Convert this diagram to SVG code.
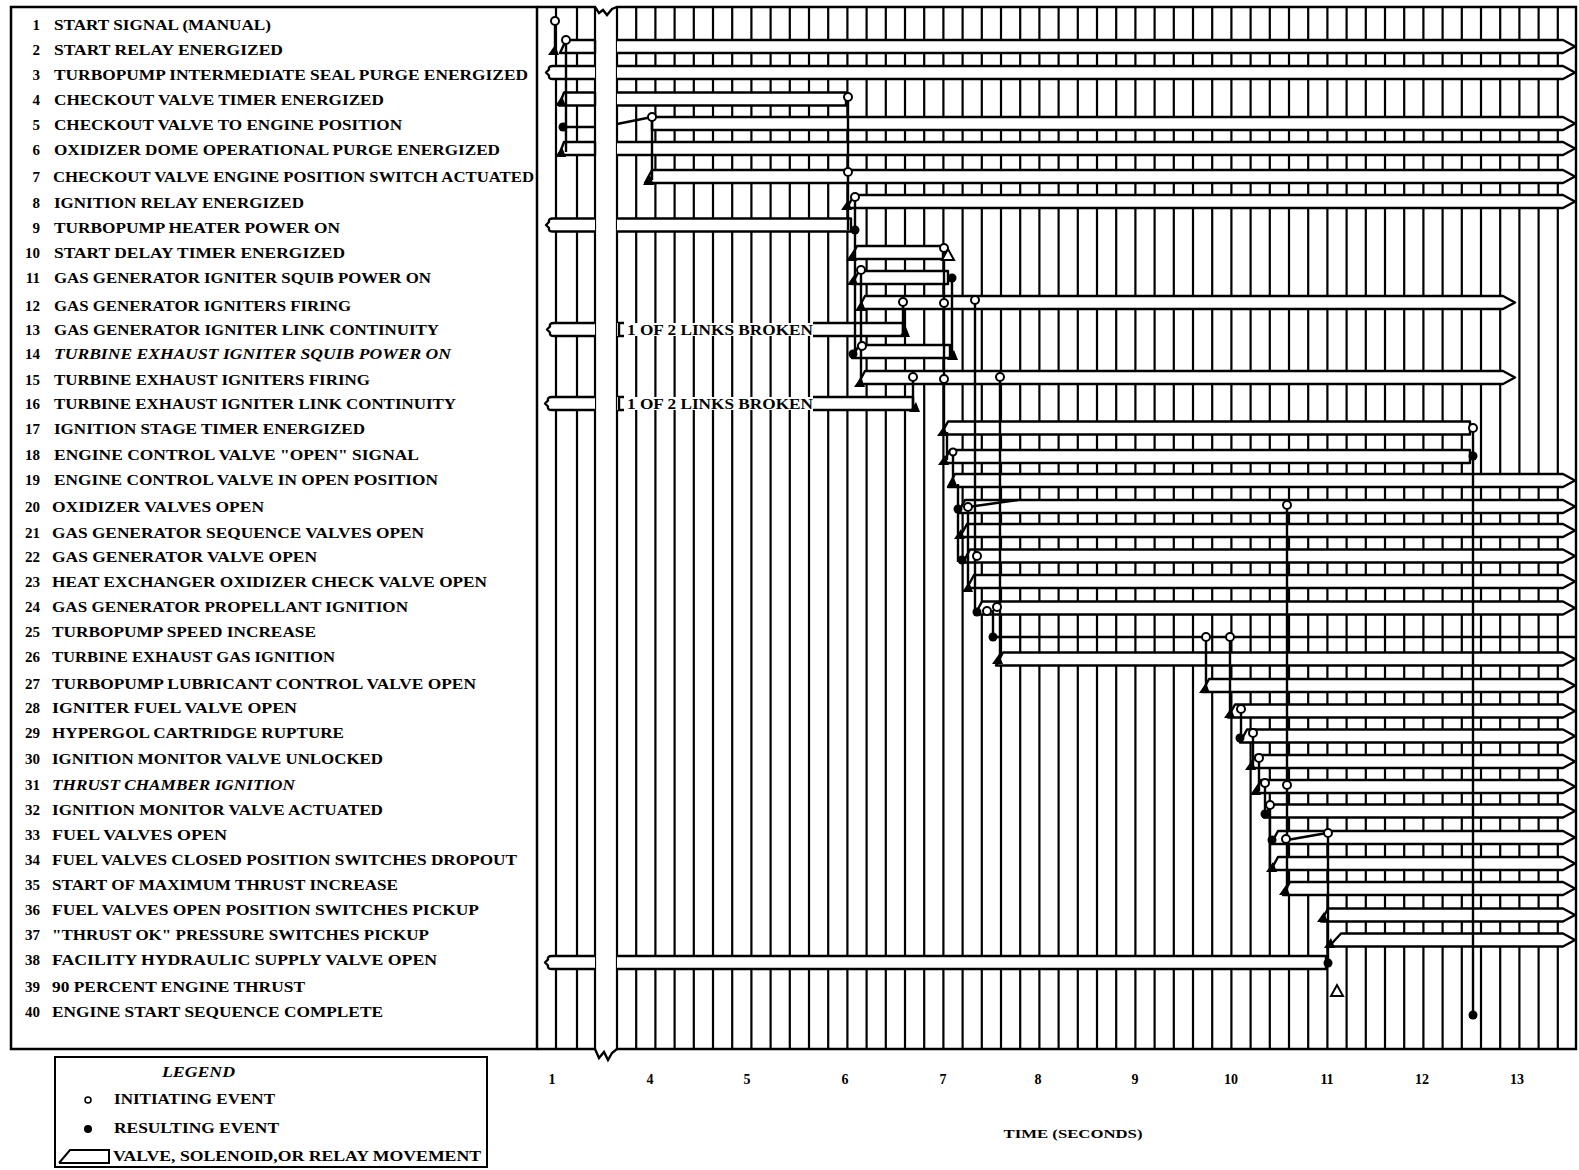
<svg xmlns="http://www.w3.org/2000/svg" width="1579" height="1170" viewBox="0 0 1579 1170">
<style>
.t{font-family:"Liberation Serif","Times New Roman",serif;font-weight:bold;font-size:15px;fill:#000}
.n{text-anchor:end}
.i{font-style:italic}
.gr{stroke:#000;stroke-width:2.2;fill:none}
.b{fill:#fff;stroke:#000;stroke-width:2.4;stroke-linejoin:round}
.c{stroke:#000;stroke-width:2.4;fill:none}
.oc{fill:#fff;stroke:#000;stroke-width:2}
.fc{fill:#000}
.ax{font-family:"Liberation Serif","Times New Roman",serif;font-weight:bold;font-size:14px;text-anchor:middle}
</style>
<defs>
<path id="tri" d="M-6,4 L5,4 L1,-6 Z" fill="#000"/>
<path id="otri" d="M-6,5 L6,5 L0,-6 Z" fill="#fff" stroke="#000" stroke-width="2"/>
</defs>
<rect width="1579" height="1170" fill="#fff"/>

<g id="frame">
<rect x="11" y="7" width="526" height="1042" fill="none" stroke="#000" stroke-width="2.5"/>
<path class="gr" d="M556,7V1049 M577,7V1049 M595,7V1049"/>
<path class="gr" d="M617,7V1049 M636.2,7V1049 M655.4,7V1049 M674.6,7V1049 M693.8,7V1049 M713,7V1049 M732.2,7V1049 M751.4,7V1049 M770.6,7V1049 M789.8,7V1049 M809,7V1049 M828.2,7V1049 M847.4,7V1049 M866.6,7V1049 M885.8,7V1049 M905,7V1049 M924.2,7V1049 M943.4,7V1049 M962.6,7V1049 M981.8,7V1049 M1001,7V1049 M1020.2,7V1049 M1039.4,7V1049 M1058.6,7V1049 M1077.8,7V1049 M1097,7V1049 M1116.2,7V1049 M1135.4,7V1049 M1154.6,7V1049 M1173.8,7V1049 M1193,7V1049 M1212.2,7V1049 M1231.4,7V1049 M1250.6,7V1049 M1269.8,7V1049 M1289,7V1049 M1308.2,7V1049 M1327.4,7V1049 M1346.6,7V1049 M1365.8,7V1049 M1385,7V1049 M1404.2,7V1049 M1423.4,7V1049 M1442.6,7V1049 M1461.8,7V1049 M1481,7V1049 M1500.2,7V1049 M1519.4,7V1049 M1538.6,7V1049 M1557.8,7V1049"/>
<path d="M537,7H595 L599,13 L603,10 L607,15 L612,9 L617,7 H1576 V1049 H617 L612,1053 L608,1060 L604,1052 L599,1058 L595,1049 H537" fill="none" stroke="#000" stroke-width="2.4"/>
</g>

<g id="row-1"><text class="t n" x="40" y="30">1</text><text class="t" x="54" y="30" textLength="217" lengthAdjust="spacingAndGlyphs">START SIGNAL (MANUAL)</text></g>
<g id="row-2"><text class="t n" x="40" y="55">2</text><text class="t" x="54" y="55" textLength="229" lengthAdjust="spacingAndGlyphs">START RELAY ENERGIZED</text>
<path class="b" d="M560,53 L566,40 H595 V53 Z"/><path class="b" d="M617,40 H1563 L1575,46.5 L1563,53 H617"/></g>
<g id="row-3"><text class="t n" x="40" y="80">3</text><text class="t" x="54" y="80" textLength="474" lengthAdjust="spacingAndGlyphs">TURBOPUMP INTERMEDIATE SEAL PURGE ENERGIZED</text>
<path class="b" d="M595,66 H553 Q548,66 549,69.5 L546,72.5 L549,75.5 Q548,79 553,79 H595"/><path class="b" d="M617,66 H1563 L1575,72.5 L1563,79 H617"/></g>
<g id="row-4"><text class="t n" x="40" y="105">4</text><text class="t" x="54" y="105" textLength="330" lengthAdjust="spacingAndGlyphs">CHECKOUT VALVE TIMER ENERGIZED</text>
<path class="b" d="M559,105.5 L564,92.5 H595 V105.5 Z"/><path class="b" d="M617,92.5 H846 V105.5 H617"/></g>
<g id="row-5"><text class="t n" x="40" y="130">5</text><text class="t" x="54" y="130" textLength="348" lengthAdjust="spacingAndGlyphs">CHECKOUT VALVE TO ENGINE POSITION</text>
<path class="b" d="M652,117 H1563 L1575,123.5 L1563,130 H652 Z"/></g>
<g id="row-6"><text class="t n" x="40" y="155">6</text><text class="t" x="54" y="155" textLength="446" lengthAdjust="spacingAndGlyphs">OXIDIZER DOME OPERATIONAL PURGE ENERGIZED</text>
<path class="b" d="M559,155 L564,142 H595 V155 Z"/><path class="b" d="M617,142 H1563 L1575,148.5 L1563,155 H617"/></g>
<g id="row-7"><text class="t n" x="40" y="182">7</text><text class="t" x="53" y="182" textLength="481" lengthAdjust="spacingAndGlyphs">CHECKOUT VALVE ENGINE POSITION SWITCH ACTUATED</text>
<path class="b" d="M645,183 L652,170 H1563 L1575,176.5 L1563,183 Z"/></g>
<g id="row-8"><text class="t n" x="40" y="208">8</text><text class="t" x="54" y="208" textLength="250" lengthAdjust="spacingAndGlyphs">IGNITION RELAY ENERGIZED</text>
<path class="b" d="M847,208 L854,195 H1563 L1575,201.5 L1563,208 Z"/></g>
<g id="row-9"><text class="t n" x="40" y="233">9</text><text class="t" x="54" y="233" textLength="286" lengthAdjust="spacingAndGlyphs">TURBOPUMP HEATER POWER ON</text>
<path class="b" d="M595,218.5 H553 Q548,218.5 549,222 L546,225 L549,228 Q548,231.5 553,231.5 H595"/><path class="b" d="M617,218.5 H851 V231.5 H617"/></g>
<g id="row-10"><text class="t n" x="40" y="258">10</text><text class="t" x="54" y="258" textLength="291" lengthAdjust="spacingAndGlyphs">START DELAY TIMER ENERGIZED</text>
<path class="b" d="M850,259 L857,246 H943 V259 Z"/></g>
<g id="row-11"><text class="t n" x="40" y="283">11</text><text class="t" x="54" y="283" textLength="377" lengthAdjust="spacingAndGlyphs">GAS GENERATOR IGNITER SQUIB POWER ON</text>
<path class="b" d="M852,284 L859,271 H948 V284 Z"/></g>
<g id="row-12"><text class="t n" x="40" y="311">12</text><text class="t" x="54" y="311" textLength="297" lengthAdjust="spacingAndGlyphs">GAS GENERATOR IGNITERS FIRING</text>
<path class="b" d="M858,309 L865,296 H1503 L1515,302.5 L1503,309 Z"/></g>
<g id="row-13"><text class="t n" x="40" y="335">13</text><text class="t" x="54" y="335" textLength="385" lengthAdjust="spacingAndGlyphs">GAS GENERATOR IGNITER LINK CONTINUITY</text>
<path class="b" d="M595,323 H554 Q549,323 550,326.5 L547,329.5 L550,332.5 Q549,336 554,336 H595"/>
<rect x="617" y="323" width="286" height="13" fill="#fff"/><path class="b" d="M813,323 H903 V336 H813" fill="none"/><path class="c" d="M624,323 H619 V336 H624"/>
<text class="t" x="627" y="335" textLength="186" lengthAdjust="spacingAndGlyphs">1 OF 2 LINKS BROKEN</text></g>
<g id="row-14"><text class="t n" x="40" y="359">14</text><text class="t i" x="54" y="359" textLength="397" lengthAdjust="spacingAndGlyphs">TURBINE EXHAUST IGNITER SQUIB POWER ON</text>
<path class="b" d="M852,358 L859,345 H950 V358 Z"/></g>
<g id="row-15"><text class="t n" x="40" y="385">15</text><text class="t" x="54" y="385" textLength="316" lengthAdjust="spacingAndGlyphs">TURBINE EXHAUST IGNITERS FIRING</text>
<path class="b" d="M858,384 L865,371 H1503 L1515,377.5 L1503,384 Z"/></g>
<g id="row-16"><text class="t n" x="40" y="409">16</text><text class="t" x="54" y="409" textLength="402" lengthAdjust="spacingAndGlyphs">TURBINE EXHAUST IGNITER LINK CONTINUITY</text>
<path class="b" d="M595,397 H552 Q547,397 548,400.5 L545,403.5 L548,406.5 Q547,410 552,410 H595"/>
<rect x="617" y="397" width="296" height="13" fill="#fff"/><path class="b" d="M813,397 H913 V410 H813" fill="none"/><path class="c" d="M624,397 H619 V410 H624"/>
<text class="t" x="627" y="409" textLength="186" lengthAdjust="spacingAndGlyphs">1 OF 2 LINKS BROKEN</text></g>
<g id="row-17"><text class="t n" x="40" y="434">17</text><text class="t" x="54" y="434" textLength="311" lengthAdjust="spacingAndGlyphs">IGNITION STAGE TIMER ENERGIZED</text>
<path class="b" d="M941,434.5 L948,421.5 H1470 V434.5 Z"/></g>
<g id="row-18"><text class="t n" x="40" y="460">18</text><text class="t" x="54" y="460" textLength="365" lengthAdjust="spacingAndGlyphs">ENGINE CONTROL VALVE "OPEN" SIGNAL</text>
<path class="b" d="M943,463 L950,450 H1470 V463 Z"/></g>
<g id="row-19"><text class="t n" x="40" y="485">19</text><text class="t" x="54" y="485" textLength="384" lengthAdjust="spacingAndGlyphs">ENGINE CONTROL VALVE IN OPEN POSITION</text>
<path class="b" d="M948,487 L955,474 H1563 L1575,480.5 L1563,487 Z"/></g>
<g id="row-20"><text class="t n" x="40" y="512">20</text><text class="t" x="52" y="512" textLength="212" lengthAdjust="spacingAndGlyphs">OXIDIZER VALVES OPEN</text>
<path class="b" d="M958,513 L965,500 H1563 L1575,506.5 L1563,513 Z"/></g>
<g id="row-21"><text class="t n" x="40" y="538">21</text><text class="t" x="52" y="538" textLength="372" lengthAdjust="spacingAndGlyphs">GAS GENERATOR SEQUENCE VALVES OPEN</text>
<path class="b" d="M960,537 L967,524 H1563 L1575,530.5 L1563,537 Z"/></g>
<g id="row-22"><text class="t n" x="40" y="562">22</text><text class="t" x="52" y="562" textLength="265" lengthAdjust="spacingAndGlyphs">GAS GENERATOR VALVE OPEN</text>
<path class="b" d="M963,562.5 L970,549.5 H1563 L1575,556 L1563,562.5 Z"/></g>
<g id="row-23"><text class="t n" x="40" y="587">23</text><text class="t" x="52" y="587" textLength="435" lengthAdjust="spacingAndGlyphs">HEAT EXCHANGER OXIDIZER CHECK VALVE OPEN</text>
<path class="b" d="M967,588 L974,575 H1563 L1575,581.5 L1563,588 Z"/></g>
<g id="row-24"><text class="t n" x="40" y="612">24</text><text class="t" x="52" y="612" textLength="356" lengthAdjust="spacingAndGlyphs">GAS GENERATOR PROPELLANT IGNITION</text>
<path class="b" d="M975,614.5 L982,601.5 H1563 L1575,608 L1563,614.5 Z"/></g>
<g id="row-25"><text class="t n" x="40" y="637">25</text><text class="t" x="52" y="637" textLength="264" lengthAdjust="spacingAndGlyphs">TURBOPUMP SPEED INCREASE</text>
<path class="c" d="M993,637 H1576"/></g>
<g id="row-26"><text class="t n" x="40" y="662">26</text><text class="t" x="52" y="662" textLength="283" lengthAdjust="spacingAndGlyphs">TURBINE EXHAUST GAS IGNITION</text>
<path class="b" d="M996,665.5 L1003,652.5 H1563 L1575,659 L1563,665.5 Z"/></g>
<g id="row-27"><text class="t n" x="40" y="689">27</text><text class="t" x="52" y="689" textLength="424" lengthAdjust="spacingAndGlyphs">TURBOPUMP LUBRICANT CONTROL VALVE OPEN</text>
<path class="b" d="M1202,692 L1209,679 H1563 L1575,685.5 L1563,692 Z"/></g>
<g id="row-28"><text class="t n" x="40" y="713">28</text><text class="t" x="52" y="713" textLength="245" lengthAdjust="spacingAndGlyphs">IGNITER FUEL VALVE OPEN</text>
<path class="b" d="M1228,717.5 L1235,704.5 H1563 L1575,711 L1563,717.5 Z"/></g>
<g id="row-29"><text class="t n" x="40" y="738">29</text><text class="t" x="52" y="738" textLength="292" lengthAdjust="spacingAndGlyphs">HYPERGOL CARTRIDGE RUPTURE</text>
<path class="b" d="M1240,742.5 L1247,729.5 H1563 L1575,736 L1563,742.5 Z"/></g>
<g id="row-30"><text class="t n" x="40" y="764">30</text><text class="t" x="52" y="764" textLength="331" lengthAdjust="spacingAndGlyphs">IGNITION MONITOR VALVE UNLOCKED</text>
<path class="b" d="M1249,768 L1256,755 H1563 L1575,761.5 L1563,768 Z"/></g>
<g id="row-31"><text class="t n" x="40" y="790">31</text><text class="t i" x="52" y="790" textLength="243" lengthAdjust="spacingAndGlyphs">THRUST CHAMBER IGNITION</text>
<path class="b" d="M1254,793 L1261,780 H1563 L1575,786.5 L1563,793 Z"/></g>
<g id="row-32"><text class="t n" x="40" y="815">32</text><text class="t" x="52" y="815" textLength="331" lengthAdjust="spacingAndGlyphs">IGNITION MONITOR VALVE ACTUATED</text>
<path class="b" d="M1264,817.5 L1271,804.5 H1563 L1575,811 L1563,817.5 Z"/></g>
<g id="row-33"><text class="t n" x="40" y="840">33</text><text class="t" x="52" y="840" textLength="175" lengthAdjust="spacingAndGlyphs">FUEL VALVES OPEN</text>
<path class="b" d="M1271,844 L1278,831 H1563 L1575,837.5 L1563,844 Z"/></g>
<g id="row-34"><text class="t n" x="40" y="865">34</text><text class="t" x="52" y="865" textLength="465" lengthAdjust="spacingAndGlyphs">FUEL VALVES CLOSED POSITION SWITCHES DROPOUT</text>
<path class="b" d="M1271,870 L1278,857 H1563 L1575,863.5 L1563,870 Z"/></g>
<g id="row-35"><text class="t n" x="40" y="890">35</text><text class="t" x="52" y="890" textLength="346" lengthAdjust="spacingAndGlyphs">START OF MAXIMUM THRUST INCREASE</text>
<path class="b" d="M1283,895 L1290,882 H1563 L1575,888.5 L1563,895 Z"/></g>
<g id="row-36"><text class="t n" x="40" y="915">36</text><text class="t" x="52" y="915" textLength="427" lengthAdjust="spacingAndGlyphs">FUEL VALVES OPEN POSITION SWITCHES PICKUP</text>
<path class="b" d="M1321,921.5 L1328,908.5 H1563 L1575,915 L1563,921.5 Z"/></g>
<g id="row-37"><text class="t n" x="40" y="940">37</text><text class="t" x="52" y="940" textLength="377" lengthAdjust="spacingAndGlyphs">"THRUST OK" PRESSURE SWITCHES PICKUP</text>
<path class="b" d="M1329,946.5 L1341,933.5 H1563 L1575,940 L1563,946.5 Z"/></g>
<g id="row-38"><text class="t n" x="40" y="965">38</text><text class="t" x="52" y="965" textLength="385" lengthAdjust="spacingAndGlyphs">FACILITY HYDRAULIC SUPPLY VALVE OPEN</text>
<path class="b" d="M595,956 H552 Q547,956 548,959.5 L545,962.5 L548,965.5 Q547,969 552,969 H595"/><path class="b" d="M617,956 H1326 V969 H617"/></g>
<g id="row-39"><text class="t n" x="40" y="992">39</text><text class="t" x="52" y="992" textLength="253" lengthAdjust="spacingAndGlyphs">90 PERCENT ENGINE THRUST</text></g>
<g id="row-40"><text class="t n" x="40" y="1017">40</text><text class="t" x="52" y="1017" textLength="331" lengthAdjust="spacingAndGlyphs">ENGINE START SEQUENCE COMPLETE</text></g>

<g id="connectors">
<path class="c" d="M555,21V50 M566,40V152 M563,127H595 M617,124L652,117 M652,117V180 M848,97V230 M855,197V355 M861,270V383 M903,302V333 M913,377V408 M944,248V432 M952,278V355 M975,300V612 M1000,377V659 M947,432V460 M953,452V484 M958,484V562 M968,507V588 M968,507L1018,500 M993,610V637 M1206,637V688 M1230,637V713 M1241,709V738 M1253,733V766 M1259,758V791 M1265,783V814 M1270,805V868 M1287,505V891 M1287,840L1327,833 M1328,833V963 M1473,428V1015"/>
</g>

<g id="events">
<circle class="oc" cx="555" cy="21" r="4"/>
<circle class="oc" cx="566" cy="40" r="4"/>
<use href="#tri" x="554" y="51"/>
<use href="#tri" x="561" y="102"/>
<circle class="fc" cx="563" cy="127" r="4.5"/>
<use href="#tri" x="561" y="153"/>
<circle class="oc" cx="652" cy="117" r="4"/>
<use href="#tri" x="649" y="181"/>
<circle class="oc" cx="848" cy="97" r="4"/>
<circle class="oc" cx="848" cy="172" r="4"/>
<use href="#tri" x="847" y="206"/>
<circle class="oc" cx="855" cy="197" r="4"/>
<circle class="fc" cx="855" cy="230" r="4.5"/>
<use href="#tri" x="852" y="257"/>
<circle class="oc" cx="861" cy="270" r="4"/>
<use href="#tri" x="853" y="281"/>
<use href="#tri" x="861" y="307"/>
<circle class="oc" cx="862" cy="346" r="4"/>
<circle class="fc" cx="853" cy="354" r="4.5"/>
<use href="#tri" x="860" y="383"/>
<circle class="oc" cx="944" cy="248" r="4"/>
<use href="#otri" x="948" y="255"/>
<circle class="fc" cx="952" cy="278" r="4.5"/>
<circle class="oc" cx="903" cy="302" r="4"/>
<circle class="oc" cx="944" cy="303" r="4"/>
<circle class="oc" cx="975" cy="300" r="4"/>
<use href="#tri" x="905" y="333"/>
<use href="#tri" x="953" y="356"/>
<circle class="oc" cx="913" cy="377" r="4"/>
<circle class="oc" cx="944" cy="379" r="4"/>
<circle class="oc" cx="1000" cy="377" r="4"/>
<use href="#tri" x="915" y="408"/>
<use href="#tri" x="943" y="432"/>
<circle class="oc" cx="1473" cy="428" r="4"/>
<circle class="oc" cx="953" cy="452" r="3.5"/>
<use href="#tri" x="944" y="461"/>
<circle class="fc" cx="1473" cy="456" r="4.5"/>
<use href="#tri" x="953" y="484"/>
<circle class="fc" cx="958" cy="509" r="4.5"/>
<circle class="oc" cx="968" cy="507" r="4"/>
<circle class="oc" cx="1287" cy="505" r="4"/>
<use href="#tri" x="960" y="535"/>
<circle class="fc" cx="962" cy="560" r="4.5"/>
<circle class="oc" cx="977" cy="556" r="4"/>
<use href="#tri" x="968" y="588"/>
<circle class="fc" cx="977" cy="612" r="4.5"/>
<circle class="oc" cx="987" cy="611" r="4"/>
<circle class="oc" cx="997" cy="607" r="4"/>
<circle class="fc" cx="993" cy="637" r="4.5"/>
<circle class="oc" cx="1206" cy="637" r="4"/>
<circle class="oc" cx="1230" cy="637" r="4"/>
<use href="#tri" x="998" y="660"/>
<use href="#tri" x="1205" y="689"/>
<use href="#tri" x="1230" y="714"/>
<circle class="oc" cx="1241" cy="709" r="4"/>
<circle class="fc" cx="1240" cy="738" r="4.5"/>
<circle class="oc" cx="1253" cy="733" r="4"/>
<use href="#tri" x="1251" y="766"/>
<circle class="oc" cx="1259" cy="758" r="4"/>
<use href="#tri" x="1256" y="791"/>
<circle class="oc" cx="1265" cy="783" r="4"/>
<circle class="oc" cx="1287" cy="785" r="4"/>
<circle class="fc" cx="1265" cy="814" r="4.5"/>
<circle class="oc" cx="1270" cy="805" r="4"/>
<circle class="fc" cx="1272" cy="840" r="4.5"/>
<circle class="oc" cx="1286" cy="839" r="4"/>
<circle class="oc" cx="1328" cy="833" r="4"/>
<use href="#tri" x="1272" y="868"/>
<use href="#tri" x="1285" y="891"/>
<use href="#tri" x="1323" y="918"/>
<use href="#tri" x="1330" y="944"/>
<circle class="fc" cx="1328" cy="963" r="4.5"/>
<use href="#otri" x="1337" y="991"/>
<circle class="fc" cx="1473" cy="1015" r="4.5"/>
</g>

<g id="axis">
<text class="ax" x="552" y="1084">1</text>
<text class="ax" x="650" y="1084">4</text>
<text class="ax" x="747" y="1084">5</text>
<text class="ax" x="845" y="1084">6</text>
<text class="ax" x="943" y="1084">7</text>
<text class="ax" x="1038" y="1084">8</text>
<text class="ax" x="1135" y="1084">9</text>
<text class="ax" x="1231" y="1084">10</text>
<text class="ax" x="1327" y="1084">11</text>
<text class="ax" x="1422" y="1084">12</text>
<text class="ax" x="1517" y="1084">13</text>
<text class="ax" x="1073" y="1138" style="font-size:13px" textLength="139" lengthAdjust="spacingAndGlyphs">TIME (SECONDS)</text>
</g>

<g id="legend">
<rect x="55" y="1057" width="432" height="110" fill="#fff" stroke="#000" stroke-width="2"/>
<text class="t i" x="162" y="1077" style="font-size:14px" textLength="73" lengthAdjust="spacingAndGlyphs">LEGEND</text>
<circle class="oc" cx="88" cy="1100" r="3" style="stroke-width:1.5"/>
<text class="t" x="114" y="1104" style="font-size:14px" textLength="161" lengthAdjust="spacingAndGlyphs">INITIATING EVENT</text>
<circle class="fc" cx="88" cy="1129" r="4"/>
<text class="t" x="114" y="1133" style="font-size:14px" textLength="165" lengthAdjust="spacingAndGlyphs">RESULTING EVENT</text>
<path d="M59,1163 L70,1150 H106 M104,1150 H109 V1163 H104 M59,1163 H109" fill="none" stroke="#000" stroke-width="2"/>
<text class="t" x="113" y="1161" style="font-size:14px" textLength="368" lengthAdjust="spacingAndGlyphs">VALVE, SOLENOID,OR RELAY MOVEMENT</text>
</g>
</svg>
